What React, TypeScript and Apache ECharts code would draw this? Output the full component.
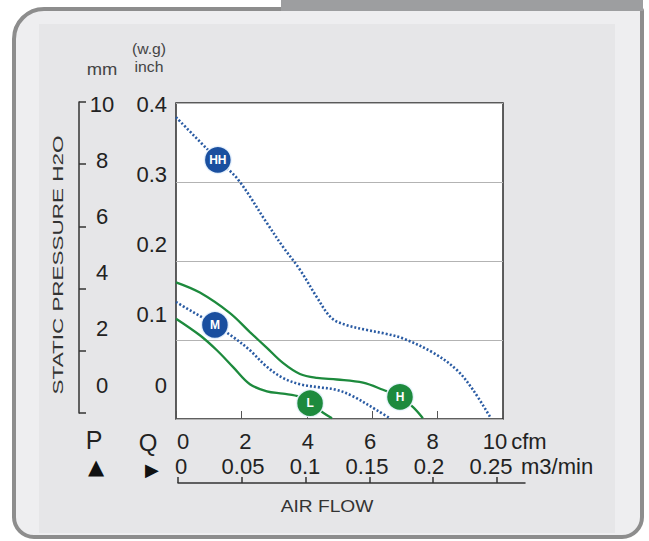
import React, { useEffect, useRef } from 'react';
import * as echarts from 'echarts';

// Tick labels
const cfmTicks = ['0', '2', '4', '6', '8', '10'];
const m3Ticks = ['0', '0.05', '0.1', '0.15', '0.2', '0.25'];
const mmTicks = ['0', '2', '4', '6', '8', '10'];
const inchTicks = ['0', '0.1', '0.2', '0.3', '0.4'];
const airFlowTickValues = [0, 0.05, 0.1, 0.15, 0.2, 0.25];

// Curves: [cfm, inch H2O]
const hhCurve = [
  [0, 0.382], [1.28, 0.328], [1.9, 0.303], [2.78, 0.248], [3.27, 0.218],
  [3.79, 0.189], [4.31, 0.154], [4.75, 0.128], [5.2, 0.119], [5.8, 0.113], [6.4, 0.108],
  [6.94, 0.102], [7.86, 0.084], [8.59, 0.062], [9.08, 0.037], [9.6, 0.003],
];
const mCurve = [
  [0, 0.148], [1.19, 0.119], [1.74, 0.104], [2.26, 0.087], [2.78, 0.066], [3.27, 0.052],
  [3.79, 0.044], [4.4, 0.04], [4.9, 0.037], [5.4, 0.029], [6.15, 0.011], [6.54, 0.001],
];
const hCurve = [
  [0, 0.173], [0.73, 0.16], [1.65, 0.134], [2.26, 0.11], [2.78, 0.09], [3.27, 0.071],
  [3.79, 0.057], [4.31, 0.052], [4.92, 0.05], [5.72, 0.046], [6.33, 0.037], [6.85, 0.028],
  [7.25, 0.015], [7.55, 0.001],
];
const lCurve = [
  [0, 0.127], [0.73, 0.106], [1.25, 0.087], [1.74, 0.066], [2.26, 0.044], [2.78, 0.035],
  [3.27, 0.032], [3.79, 0.028], [4.1, 0.02], [4.5, 0.008], [4.77, 0.001],
];

// Curve markers
const markerNames = ['HH', 'M', 'H', 'L'];
const markerPoints = [[1.28, 0.328], [1.19, 0.119], [6.85, 0.028], [4.1, 0.02]];

const BLUE = '#1a4f9f';
const BLUE_LINE = '#2a5ba3';
const GREEN = '#1d8a3d';
const FONT = "'Liberation Sans', Arial, sans-serif";

const labelStyle = { fontFamily: FONT, fontSize: 22, color: '#222' };

const option: any = {
  animation: false,
  textStyle: { fontFamily: FONT },
  grid: [
    { left: 176, top: 103, width: 327, height: 316, show: true, backgroundColor: '#ffffff', borderColor: '#2b2b2b', borderWidth: 1.5 },
    { left: 170, top: 104, width: 10, height: 281 },
    { left: 79, top: 102, width: 10, height: 311 },
    { left: 183, top: 418, width: 312, height: 10 },
    { left: 181, top: 443, width: 310, height: 10 },
    { left: 178, top: 470, width: 347, height: 13 },
  ],
  xAxis: [
    {
      gridIndex: 0, type: 'value', min: 0, max: 10, interval: 2,
      axisLine: { show: false },
      axisTick: { show: true, inside: true, length: 8, lineStyle: { color: '#555', width: 1 } },
      axisLabel: { show: false }, splitLine: { show: false },
    },
    {
      gridIndex: 3, type: 'category', data: cfmTicks, boundaryGap: false, position: 'bottom',
      axisLine: { show: false }, axisTick: { show: false },
      axisLabel: { ...labelStyle, margin: 2, interval: 0 },
      name: 'cfm', nameLocation: 'end', nameGap: 16,
      nameTextStyle: { ...labelStyle, verticalAlign: 'top', padding: [2, 0, 0, 0] },
    },
    {
      gridIndex: 4, type: 'category', data: m3Ticks, boundaryGap: false, position: 'bottom',
      axisLine: { show: false }, axisTick: { show: false },
      axisLabel: { ...labelStyle, margin: 2, interval: 0 },
      name: 'm3/min', nameLocation: 'end', nameGap: 30,
      nameTextStyle: { ...labelStyle, verticalAlign: 'top', padding: [2, 0, 0, 0] },
    },
    {
      gridIndex: 5, type: 'value', min: 0, max: 0.272, position: 'bottom',
      axisLine: { show: true, lineStyle: { color: '#333', width: 1.5 } },
      axisTick: { show: true, inside: true, length: 6, customValues: airFlowTickValues, lineStyle: { color: '#333', width: 1.5 } },
      axisLabel: { show: false }, splitLine: { show: false },
    },
    { gridIndex: 1, type: 'value', show: false },
    { gridIndex: 2, type: 'value', show: false },
  ],
  yAxis: [
    {
      gridIndex: 0, type: 'value', min: 0, max: 0.4, interval: 0.1,
      axisLine: { show: false }, axisTick: { show: false }, axisLabel: { show: false },
      splitLine: { show: true, lineStyle: { color: '#b3b3b3', width: 1 } },
    },
    {
      gridIndex: 1, type: 'category', data: inchTicks, boundaryGap: false, position: 'left',
      axisLine: { show: false }, axisTick: { show: false },
      axisLabel: { ...labelStyle, margin: 3, align: 'right', interval: 0 },
    },
    {
      gridIndex: 1, type: 'category', data: mmTicks, boundaryGap: false, position: 'left', offset: 68,
      axisLine: { show: false }, axisTick: { show: false },
      axisLabel: { ...labelStyle, margin: 0, align: 'center', interval: 0 },
    },
    {
      gridIndex: 2, type: 'category', data: mmTicks, boundaryGap: false, position: 'left',
      axisLine: { show: true, lineStyle: { color: '#333', width: 1.5 } },
      axisTick: { show: true, inside: true, length: 7, interval: 0, lineStyle: { color: '#333', width: 1.5 } },
      axisLabel: { show: false },
    },
    { gridIndex: 3, type: 'value', show: false },
    { gridIndex: 4, type: 'value', show: false },
    { gridIndex: 5, type: 'value', show: false },
  ],
  graphic: [
    {
      type: 'rect', z: -20, silent: true,
      shape: { x: 14, y: 9, width: 628, height: 528, r: [30, 2, 20, 20] },
      style: { fill: '#eeeef0', stroke: '#8d8d8d', lineWidth: 4 },
    },
    {
      type: 'rect', z: -19, silent: true,
      shape: { x: 39, y: 24, width: 576, height: 509 },
      style: { fill: '#e6e6e8' },
    },
    {
      type: 'rect', z: -18, silent: true,
      shape: { x: 281, y: 0, width: 362, height: 11 },
      style: { fill: '#9d9ea0' },
    },
    {
      type: 'text', z: 10, x: 58, y: 265, rotation: Math.PI / 2, scaleX: 1.45,
      style: { text: 'STATIC PRESSURE H2O', fontFamily: FONT, fontSize: 15.5, fill: '#333', align: 'center', verticalAlign: 'middle' },
    },
    {
      type: 'text', z: 10, x: 102, y: 69, scaleX: 1.15,
      style: { text: 'mm', fontFamily: FONT, fontSize: 16, fill: '#444', align: 'center', verticalAlign: 'middle' },
    },
    {
      type: 'text', z: 10, x: 149, y: 49, scaleX: 1.05,
      style: { text: '(w.g)', fontFamily: FONT, fontSize: 15, fill: '#444', align: 'center', verticalAlign: 'middle' },
    },
    {
      type: 'text', z: 10, x: 149, y: 67, scaleX: 1.05,
      style: { text: 'inch', fontFamily: FONT, fontSize: 15, fill: '#444', align: 'center', verticalAlign: 'middle' },
    },
    {
      type: 'text', z: 10, x: 94, y: 440,
      style: { text: 'P', fontFamily: FONT, fontSize: 25, fill: '#222', align: 'center', verticalAlign: 'middle' },
    },
    {
      type: 'text', z: 10, x: 96, y: 467,
      style: { text: '▲', fontFamily: "'DejaVu Sans', sans-serif", fontSize: 21, fill: '#111', align: 'center', verticalAlign: 'middle' },
    },
    {
      type: 'text', z: 10, x: 148, y: 442,
      style: { text: 'Q', fontFamily: FONT, fontSize: 24, fill: '#222', align: 'center', verticalAlign: 'middle' },
    },
    {
      type: 'text', z: 10, x: 152, y: 469,
      style: { text: '▶', fontFamily: "'DejaVu Sans', sans-serif", fontSize: 18, fill: '#111', align: 'center', verticalAlign: 'middle' },
    },
    {
      type: 'text', z: 10, x: 327, y: 507, scaleX: 1.2,
      style: { text: 'AIR FLOW', fontFamily: FONT, fontSize: 16, fill: '#333', align: 'center', verticalAlign: 'middle' },
    },
  ],
  series: [
    {
      type: 'line', name: 'HH', xAxisIndex: 0, yAxisIndex: 0, data: hhCurve, showSymbol: false,
      smooth: 0.35,
      lineStyle: { color: BLUE_LINE, width: 2.6, type: [2, 2], cap: 'butt' },
    },
    {
      type: 'line', name: 'M', xAxisIndex: 0, yAxisIndex: 0, data: mCurve, showSymbol: false,
      smooth: 0.35,
      lineStyle: { color: BLUE_LINE, width: 2.6, type: [2, 2], cap: 'butt' },
    },
    {
      type: 'line', name: 'H', xAxisIndex: 0, yAxisIndex: 0, data: hCurve, showSymbol: false,
      smooth: 0.35,
      lineStyle: { color: GREEN, width: 2.3 },
    },
    {
      type: 'line', name: 'L', xAxisIndex: 0, yAxisIndex: 0, data: lCurve, showSymbol: false,
      smooth: 0.35,
      lineStyle: { color: GREEN, width: 2.3 },
    },
    {
      type: 'scatter', xAxisIndex: 0, yAxisIndex: 0, z: 5, symbol: 'circle', symbolSize: 27,
      data: markerNames.map((n, i) => ({
        name: n,
        value: markerPoints[i],
        itemStyle: { color: n === 'HH' || n === 'M' ? BLUE : GREEN },
      })),
      itemStyle: { opacity: 1, borderColor: 'rgba(235,245,255,0.9)', borderWidth: 1.5 },
      label: {
        show: true, position: 'inside', formatter: '{b}',
        fontFamily: FONT, fontSize: 12, fontWeight: 'bold', color: '#ffffff',
      },
    },
  ],
};

export default function App() {
  const ref = useRef<HTMLDivElement>(null);
  useEffect(() => {
    document.body.style.margin = '0';
    const chart = echarts.init(ref.current as HTMLDivElement, null, { renderer: 'svg' });
    chart.setOption(option);
    return () => chart.dispose();
  }, []);
  return <div ref={ref} style={{ width: 649, height: 541 }} />;
}
